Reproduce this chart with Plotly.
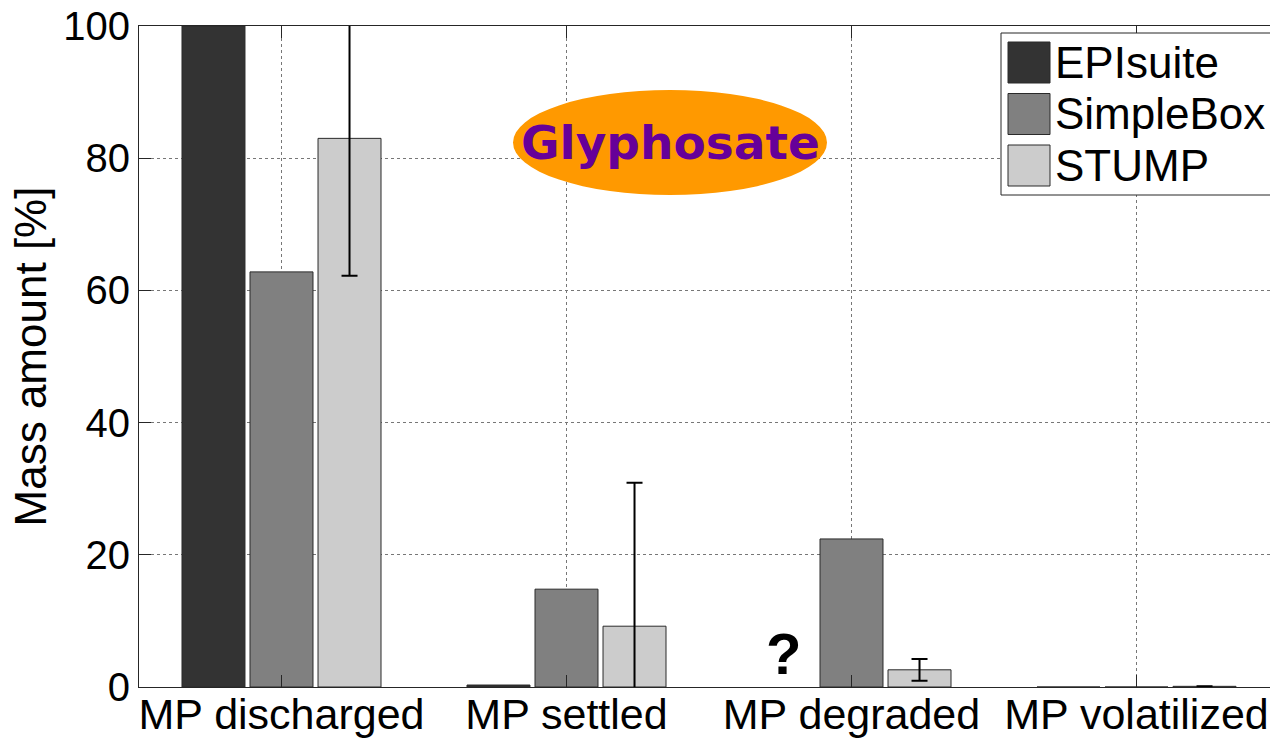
import plotly.graph_objects as go

# ---- data ----
categories = ["MP discharged", "MP settled", "MP degraded", "MP volatilized"]
series_names = ["EPIsuite", "SimpleBox", "STUMP"]
episuite = [100.0, 0.3, None, 0.0]
simplebox = [62.8, 14.8, 22.4, 0.0]
stump = [83.0, 9.2, 2.6, 0.1]
stump_err = [20.8, 21.7, 1.65, 0.0]
y_ticks = [0, 20, 40, 60, 80, 100]

colors = ["#333333", "#808080", "#cccccc"]

W, H = 1270, 738
L, R, T, B = 139, 0, 26, 51
PW, PH = W - L - R, H - T - B
cat_px = 285.0  # pixels per category

def px_x(px):
    return (px - L) / PW

def px_y(py):
    return (H - B - py) / PH

bargap = 0.284
bargroupgap = 0.074
slot = (1 - bargap) / 3

fig = go.Figure()
vals = [episuite, simplebox, stump]
for i, (name, v) in enumerate(zip(series_names, vals)):
    kw = {}
    if name == "STUMP":
        kw["error_y"] = dict(type="data", array=stump_err, visible=True,
                             color="black", thickness=2, width=8)
    fig.add_trace(go.Bar(
        x=categories, y=v, name=name, showlegend=False,
        marker=dict(color=colors[i], line=dict(color="#2a2a2a", width=1)),
        **kw))

font_family = "Liberation Sans, Arial, sans-serif"

fig.update_layout(
    width=W, height=H,
    margin=dict(l=L, r=R, t=T, b=B, pad=0, autoexpand=False),
    paper_bgcolor="white", plot_bgcolor="white",
    barmode="group", bargap=bargap, bargroupgap=bargroupgap,
    font=dict(family=font_family, color="black"),
    showlegend=False,
)

fig.update_xaxes(
    type="category", range=[-0.5, -0.5 + PW / cat_px], automargin=False,
    showline=True, linecolor="#262626", linewidth=1, mirror="ticks",
    ticks="inside", ticklen=12, tickcolor="#262626",
    showgrid=True, gridcolor="#777777", griddash="dot", gridwidth=1,
    tickfont=dict(size=43, family=font_family, color="black"),
    ticklabelstandoff=-11,
)
fig.update_yaxes(
    range=[0, 100], tickvals=y_ticks, automargin=False,
    showline=True, linecolor="#262626", linewidth=1,
    ticks="inside", ticklen=12, tickcolor="#262626",
    showgrid=True, gridcolor="#777777", griddash="dot", gridwidth=1,
    zeroline=False,
    tickfont=dict(size=40, family=font_family, color="black"),
    title=dict(text="Mass amount [%]", font=dict(size=44, family=font_family), standoff=2),
)

shapes = []
annotations = []

# Glyphosate ellipse label
shapes.append(dict(type="circle", xref="paper", yref="paper",
                   x0=px_x(513), x1=px_x(827), y0=px_y(195), y1=px_y(90),
                   fillcolor="#ff9900", line=dict(width=0), layer="above"))
annotations.append(dict(xref="paper", yref="paper", x=px_x(670), y=px_y(142),
                        text="<b>Glyphosate</b>", showarrow=False,
                        xanchor="center", yanchor="middle",
                        font=dict(family="DejaVu Sans, Verdana, sans-serif", size=47, color="#660099")))

# Question mark for missing EPIsuite degraded value
annotations.append(dict(xref="x", yref="y", x=categories.index("MP degraded") - slot, y=5.1,
                        text="<b>?</b>", showarrow=False, xanchor="center", yanchor="middle",
                        font=dict(family=font_family, size=58, color="black")))

# Manual legend
shapes.append(dict(type="rect", xref="paper", yref="paper",
                   x0=px_x(1001), x1=px_x(1290), y0=px_y(195), y1=px_y(33),
                   fillcolor="white", line=dict(color="#262626", width=1), layer="above"))
row_tops = [42, 93.5, 145]
for name, col, top in zip(series_names, colors, row_tops):
    shapes.append(dict(type="rect", xref="paper", yref="paper",
                       x0=px_x(1008), x1=px_x(1050), y0=px_y(top + 41), y1=px_y(top),
                       fillcolor=col, line=dict(color="#2a2a2a", width=1), layer="above"))
    annotations.append(dict(xref="paper", yref="paper", x=px_x(1053), y=px_y(top + 20.5),
                            text=name, showarrow=False, xanchor="left", yanchor="middle",
                            font=dict(family=font_family, size=44, color="black")))

fig.update_layout(shapes=shapes, annotations=annotations)

fig.write_html("out.html", config={"displayModeBar": False},
               post_script="document.body.style.margin='0';document.body.style.overflow='hidden';")
